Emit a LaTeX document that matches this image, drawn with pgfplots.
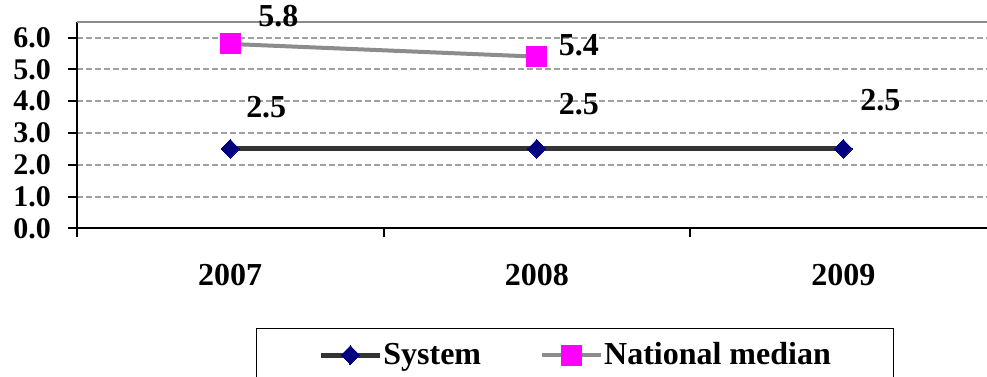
\documentclass[border=0pt]{standalone}
\usepackage{pgfplots}
\pgfplotsset{compat=1.18}
\usepackage{pgfplotstable}
\usepackage{fontspec}
\setmainfont{Liberation Serif}
\definecolor{navyb}{RGB}{0,0,128}
\definecolor{sysline}{RGB}{51,51,51}
\definecolor{natline}{RGB}{140,140,140}
\definecolor{gridc}{RGB}{160,160,160}
\definecolor{mag}{RGB}{255,0,255}
\pgfplotstableread{
x y dx dy lab
0 2.5 18 21 2.5
1 2.5 21 22.5 2.5
2 2.5 18.5 24.5 2.5
}\system
\pgfplotstableread{
x y dx dy lab
0 5.8 24 14 5.8
1 5.4 21 5.5 5.4
}\national
\begin{document}
\begin{tikzpicture}
\begin{axis}[name=ax, scale only axis, width=455pt, height=103.3pt,
  xmin=-0.5, xmax=2.469, ymin=0, ymax=6.5,
  axis x line*=bottom, axis y line*=left,
  axis line style={black, line width=1pt},
  tick align=outside, major tick length=4.5pt,
  tick style={black, line width=1pt},
  xtick={-0.5,0.5,1.5,2.5}, xticklabels={},
  extra x ticks={0,1,2}, extra x tick labels={2007,2008,2009},
  extra x tick style={major tick length=0pt},
  ytick={0,1,2,3,4,5,6},
  /pgf/number format/.cd, fixed, fixed zerofill, precision=1, assume math mode=true, /pgfplots/.cd,
  yticklabel style={font=\fontsize{15}{17}\selectfont\bfseries, xshift=-5pt},
  xticklabel style={font=\fontsize{16}{18}\selectfont\bfseries, yshift=-14.5pt},
  ymajorgrids,
  major grid style={gridc, line width=1pt, dash pattern=on 3pt off 1.5pt},
  clip=false,
  point meta=explicit symbolic,
  visualization depends on={\thisrow{dx} \as \dx},
  visualization depends on={\thisrow{dy} \as \dy},
  nodes near coords,
  nodes near coords style={anchor=center, xshift=\dx pt, yshift=\dy pt, text=black, font=\fontsize{16}{18}\selectfont\bfseries},
  legend image code/.code={\draw[mark repeat=2,mark phase=2,#1] plot coordinates {(0pt,0pt)(14.75pt,0pt)(29.5pt,0pt)};},
  legend columns=2,
  legend style={at={(0.1967,-0.4826)}, anchor=north west, draw=black,
    inner xsep=31pt, inner ysep=6.5pt,
    nodes={inner sep=0.5pt},
    /tikz/every even column/.append style={column sep=29pt},
    font=\fontsize{16}{18}\selectfont\bfseries},
]
\draw[natline, line width=1pt] (rel axis cs:0,1) -- (rel axis cs:1,1);
\addplot[sysline, line width=2.5pt, mark=diamond*, mark size=4.7pt,
  mark options={fill=navyb, draw=navyb, line width=0pt, xscale=1.3}]
  table[x=x, y=y, meta=lab] {\system};
\addlegendentry{System}
\addplot[natline, line width=2pt, mark=square*, mark size=5pt,
  mark options={fill=mag, draw=mag, line width=0pt}]
  table[x=x, y=y, meta=lab] {\national};
\addlegendentry{National median}
\end{axis}
\pgfresetboundingbox
\path[use as bounding box] (ax.south west) ++(-38.5pt,-73.85pt) rectangle ++(493.5pt,188pt);
\end{tikzpicture}
\end{document}
